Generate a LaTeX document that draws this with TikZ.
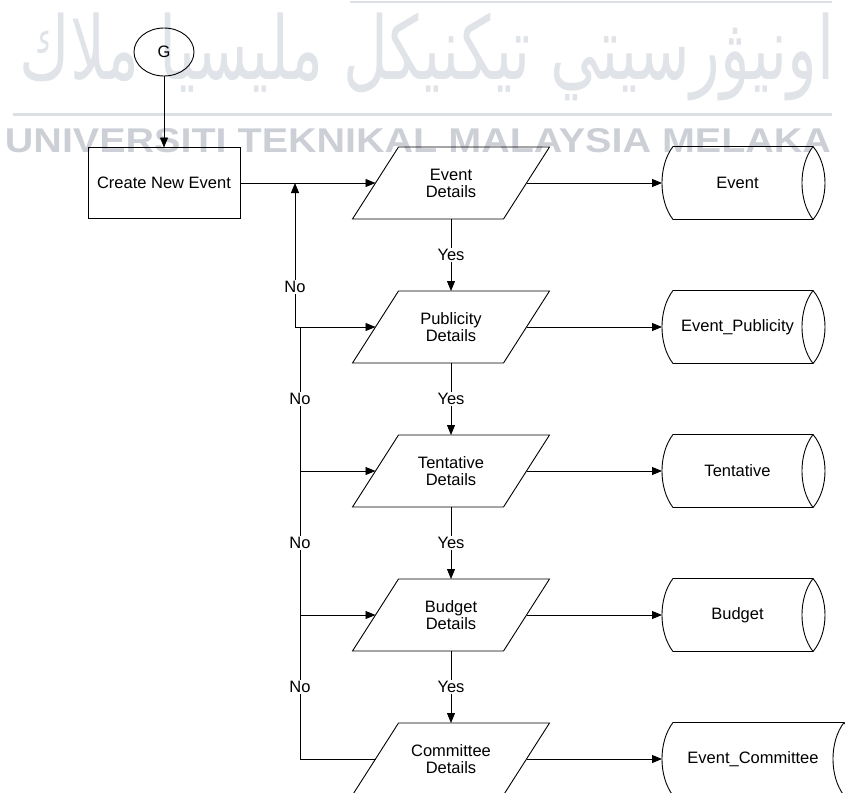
\documentclass[tikz,border=0pt]{standalone}
\usepackage{graphicx}
\usepackage{fontspec}
\setmainfont{Liberation Sans}
\newfontfamily\arabicfont[Script=Arabic]{DejaVu Sans}
\TeXXeTstate=1
\usetikzlibrary{arrows.meta,shapes.geometric,calc}
\definecolor{wmA}{RGB}{224,227,232}
\definecolor{wmB}{RGB}{204,208,214}
\definecolor{wmL}{RGB}{220,223,228}
\newcommand\dataoutline[1]{\draw[ln] (#1.south west) -- ([xshift=46pt]#1.north west) -- (#1.north east) -- ([xshift=-46pt]#1.south east) -- cycle;}
\newcommand\storeoutline[1]{%
  \draw[ln] ([xshift=11pt]#1.north west) -- (#1.north east)
    .. controls +(16,19) and +(16,-19) .. (#1.south east)
    -- ([xshift=11pt]#1.south west)
    .. controls +(-14.7,-19) and +(-14.7,19) .. ([xshift=11pt]#1.north west) -- cycle;
  \draw[ln] (#1.north east) .. controls +(-14.7,19) and +(-14.7,-19) .. (#1.south east);}
\begin{document}
\begin{tikzpicture}[x=1pt,y=-1pt,
  txt/.style={font=\fontsize{16.5pt}{17pt}\selectfont, align=center},
  ln/.style={line width=0.9pt, draw=black},
  arr/.style={ln, -{Triangle[length=10pt,width=8pt]}},
  databox/.style={txt, rectangle, minimum width=197pt, minimum height=72pt, inner sep=0pt, outer sep=0pt},
  storebox/.style={txt, rectangle, minimum width=151pt, minimum height=73pt, inner sep=0pt, outer sep=0pt},
  procbox/.style={txt, ln, rectangle, minimum width=152pt, minimum height=71pt, inner sep=0pt, outer sep=0pt},
  connector/.style={txt, ln, ellipse, minimum width=60pt, minimum height=48pt, inner sep=0pt, outer sep=0pt},
  lbl/.style={txt, fill=white, inner sep=1.5pt}]
\useasboundingbox (0,0) rectangle (845,792);

% watermark
\draw[wmL, line width=2pt] (350,2) -- (832,2);
\draw[wmL, line width=3pt] (13,114) -- (832,114);
\node[inner sep=0pt, text=wmA] (wmjawi) at (427,57) {\resizebox*{815pt}{88pt}{\arabicfont\beginR اونيۋرسيتي تيكنيكل مليسيا ملاك\endR}};
\node[inner sep=0pt, text=wmB, anchor=north] (wmlatin) at (418,128) {\resizebox{826pt}{24pt}{\bfseries UNIVERSITI TEKNIKAL MALAYSIA MELAKA}};

% nodes
\node[connector] (g) at (164,52) {G};
\node[procbox] (create) at (164,183) {Create New Event};

\node[databox] (d1) at (451,183) {Event\\Details};
\node[databox] (d2) at (451,327) {Publicity\\Details};
\node[databox] (d3) at (451,471) {Tentative\\Details};
\node[databox] (d4) at (451,615) {Budget\\Details};
\node[databox] (d5) at (451,759) {Committee\\Details};
\foreach \n in {d1,d2,d3,d4,d5} {\dataoutline{\n}}

\node[storebox] (s1) at (737.5,183) {Event};
\node[storebox] (s2) at (737.5,327) {Event\_Publicity};
\node[storebox] (s3) at (737.5,471) {Tentative};
\node[storebox] (s4) at (737.5,615) {Budget};
\node[storebox, minimum width=182pt] (s5) at (753,759) {Event\_Committee};
\foreach \n in {s1,s2,s3,s4,s5} {\storeoutline{\n}}

% connectors
\draw[arr] (g.south) -- (create.north);
\draw[arr] (create.east) -- ([xshift=23pt]d1.west);
\foreach \i in {1,...,5} {\draw[arr] ([xshift=-23pt]d\i.east) -- (s\i.west);}

\draw[arr] (d1.south) -- node[lbl] {Yes} (d2.north);
\draw[arr] (d2.south) -- node[lbl] {Yes} (d3.north);
\draw[arr] (d3.south) -- node[lbl] {Yes} (d4.north);
\draw[arr] (d4.south) -- node[lbl] {Yes} (d5.north);

% "No" return path
\coordinate (j1) at (295,183);
\coordinate (j2) at (295,327);
\coordinate (j2b) at (300,327);
\coordinate (j3) at (300,471);
\coordinate (j4) at (300,615);
\coordinate (j5) at (300,759);
\draw[ln] ([xshift=23pt]d5.west) -- (j5) -- (j2b);
\draw[arr] (j4) -- ([xshift=23pt]d4.west);
\draw[arr] (j3) -- ([xshift=23pt]d3.west);
\draw[arr] (j2) -- ([xshift=23pt]d2.west);
\draw[arr] (j2) -- (j1);
\node[lbl] (no1) at (295,287) {No};
\node[lbl] (no2) at (300,399) {No};
\node[lbl] (no3) at (300,543) {No};
\node[lbl] (no4) at (300,687) {No};
\end{tikzpicture}
\end{document}
